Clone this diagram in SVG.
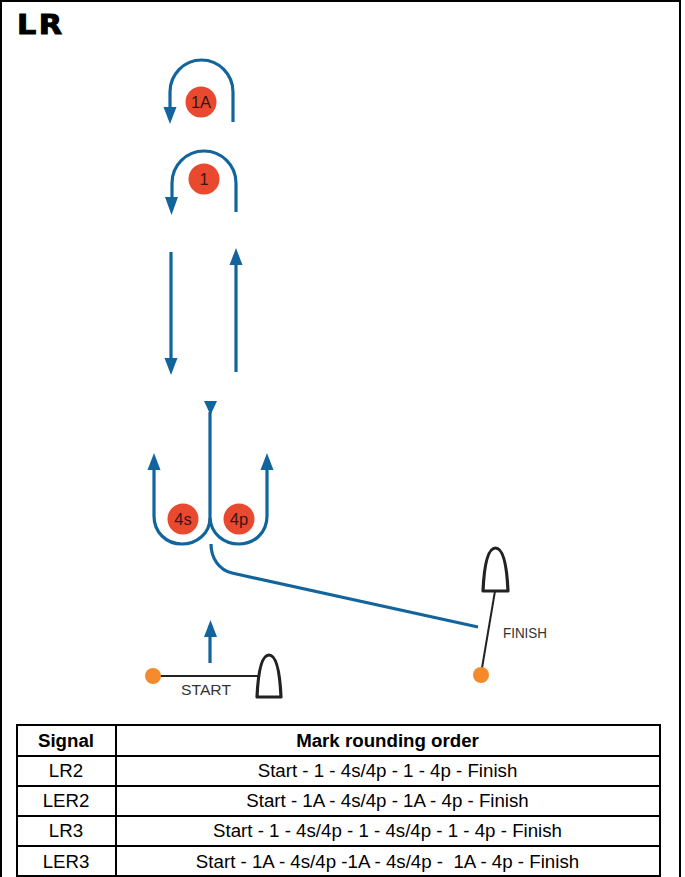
<svg xmlns="http://www.w3.org/2000/svg" width="685" height="877" viewBox="0 0 685 877">
<style>
.flow{fill:none;stroke:#12659c;stroke-width:3.200}
.head{fill:#12659c}
.mark{fill:#e9492f}
.ml{font:16.500px "Liberation Sans",Arial,sans-serif;fill:#3a1512;text-anchor:middle}
.buoy{fill:#f58a2c}
.boat{fill:#fff;stroke:#222;stroke-width:3.200;stroke-linejoin:round}
.thin{fill:none;stroke:#222;stroke-width:2}
.lbl{font-family:"Liberation Sans",Arial,sans-serif;fill:#333}
.grid{fill:none;stroke:#000;stroke-width:2}
.cell{font:18.700px "Liberation Sans",Arial,sans-serif;fill:#000;text-anchor:middle}
.hdr{font:bold 18.700px "Liberation Sans",Arial,sans-serif;fill:#000;text-anchor:middle}
</style>
<rect width="685" height="877" fill="#fff"/>
<path d="M1 877V1H680V877" fill="none" stroke="#000" stroke-width="2"/>
<text transform="translate(17 34) scale(1.12 1)" x="0 19.500" y="0" font-family="DejaVu Sans,sans-serif" font-weight="bold" font-size="27" stroke="#000" stroke-width="1">LR</text>
<g id="connectors">
<path class="flow" d="M233 122V92A31.500 32 0 0 0 170 92V110"/>
<path class="head" d="M163.500 107H176.500L170 124Z"/>
<path class="flow" d="M236 212V183A32 32 0 0 0 172 183V200"/>
<path class="head" d="M165 197H178L171.500 215Z"/>
<path class="flow" d="M171 252V362"/>
<path class="head" d="M164.500 358H177.500L171 375Z"/>
<path class="flow" d="M236 372V262"/>
<path class="head" d="M229.500 265H242.500L236 248Z"/>
<path class="flow" d="M210 412V518C210 534 196 544 182 544C166 544 154 532 154 516V466"/>
<path class="head" d="M147.500 470H160.500L154 453Z"/>
<path class="flow" d="M210 518C211 534 224 544 239 544C255 544 267 532 267 516V466"/>
<path class="head" d="M260.500 470H273.500L267 453Z"/>
<path class="head" d="M204 401H217L210.500 415Z"/>
<path class="flow" d="M211 544C211 558 219 570 232 573L478 627"/>
<path class="flow" d="M210 663V633"/>
<path class="head" d="M204 637H217L210.500 620Z"/>
<path class="thin" d="M153 676H258"/>
<path class="thin" d="M495 591L482 668"/>
</g>
<g id="mark-1A"><circle class="mark" cx="201" cy="102" r="15.500"/><text class="ml" x="201" y="107.500">1A</text></g>
<g id="mark-1"><circle class="mark" cx="204" cy="179" r="15.500"/><text class="ml" x="204" y="184.500">1</text></g>
<g id="mark-4s"><circle class="mark" cx="183" cy="519" r="15.500"/><text class="ml" x="183" y="524.500">4s</text></g>
<g id="mark-4p"><circle class="mark" cx="239" cy="519" r="15.500"/><text class="ml" x="239" y="524.500">4p</text></g>
<g id="start-buoy"><circle class="buoy" cx="153" cy="676" r="8"/></g>
<g id="start-boat"><path class="boat" d="M257 697C258 675 261 655 269 655C277 655 280 675 281 697Z"/></g>
<g id="start-label"><text class="lbl" x="181" y="695" font-size="15" textLength="50" lengthAdjust="spacingAndGlyphs">START</text></g>
<g id="finish-buoy"><circle class="buoy" cx="481" cy="675" r="8"/></g>
<g id="finish-boat"><path class="boat" d="M483 591C484 569 487 548 495.500 548C504 548 507 569 508 591Z"/></g>
<g id="finish-label"><text class="lbl" x="503" y="638" font-size="14.500" textLength="44" lengthAdjust="spacingAndGlyphs">FINISH</text></g>
<g id="table">
<path class="grid" d="M17 725H660V876H17ZM17 756H660M17 786H660M17 816H660M17 846H660M116 725V876"/>
<text class="hdr" x="66" y="747">Signal</text>
<text class="hdr" x="387.500" y="747">Mark rounding order</text>
<text class="cell" x="66" y="777">LR2</text>
<text class="cell" x="387.500" y="777">Start - 1 - 4s/4p - 1 - 4p - Finish</text>
<text class="cell" x="66" y="807">LER2</text>
<text class="cell" x="387.500" y="807">Start - 1A - 4s/4p - 1A - 4p - Finish</text>
<text class="cell" x="66" y="837">LR3</text>
<text class="cell" x="387.500" y="837">Start - 1 - 4s/4p - 1 - 4s/4p - 1 - 4p - Finish</text>
<text class="cell" x="66" y="868">LER3</text>
<text class="cell" x="387.500" y="868" xml:space="preserve">Start - 1A - 4s/4p -1A - 4s/4p -  1A - 4p - Finish</text>
</g>
</svg>
